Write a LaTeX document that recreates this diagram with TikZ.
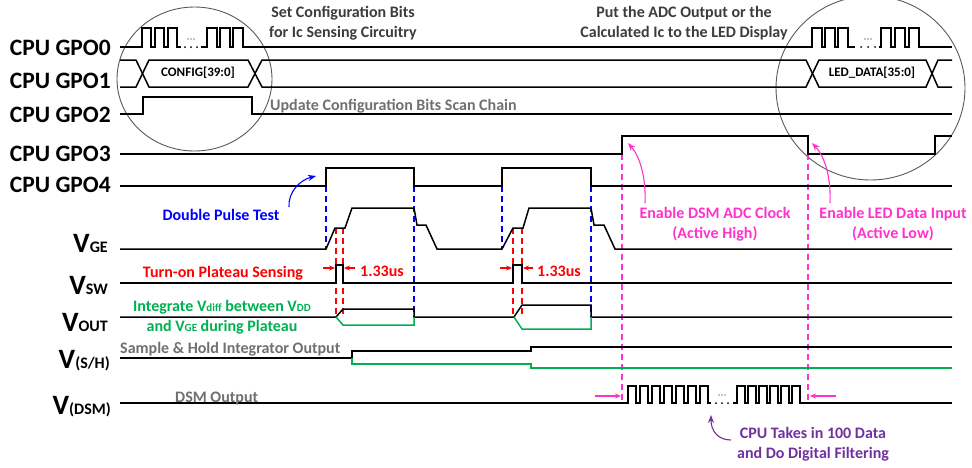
\documentclass[tikz,border=0pt]{standalone}
\usepackage{fontspec}
\setmainfont{Carlito}
\usetikzlibrary{arrows.meta}
\definecolor{myblue}{RGB}{0,0,255}
\definecolor{myred}{RGB}{255,0,0}
\definecolor{mygreen}{RGB}{0,176,80}
\definecolor{mypink}{RGB}{255,51,204}
\definecolor{mypurple}{RGB}{112,48,160}
\definecolor{mygray}{RGB}{112,112,112}
\definecolor{dkgray}{RGB}{60,60,60}
\newcommand\fsz[1]{\fontsize{#1}{#1}\selectfont}
\begin{document}
\begin{tikzpicture}[x=1pt,y=-1pt,
  sig/.style={line width=1.5pt, line join=miter},
  gsig/.style={line width=1.5pt, draw=mygreen},
  vdash/.style={line width=1.4pt, dash pattern=on 6pt off 4pt},
  lbl/.style={inner sep=0pt, font=\bfseries\fsz{23.5}, anchor=base east},
  vl/.style={inner sep=0pt, font=\bfseries, anchor=base east},
  note/.style={inner sep=0pt, font=\bfseries\fontsize{16}{19.5}\selectfont, align=center},
  ring/.style={draw=black!65, line width=0.9pt},
  tip/.style={-{Stealth[length=8pt,width=6pt]}, line width=1.1pt},
  stip/.style={-{Stealth[length=6pt,width=5pt]}, line width=1.1pt}
]
\useasboundingbox (0,0) rectangle (972,467);

% circles
\draw[ring] (194.5,79) ellipse [x radius=77.5, y radius=72];
\draw[ring] (870.5,88) ellipse [x radius=94.5, y radius=92];

% dashed markers
\draw[vdash, myblue] (326,186) -- (326,249);
\draw[vdash, myblue] (414,186) -- (414,317);
\draw[vdash, myblue] (502,186) -- (502,249);
\draw[vdash, myblue] (591,186) -- (591,317);
\draw[vdash, myred] (336,228) -- (336,317);
\draw[vdash, myred] (343,228) -- (343,317);
\draw[vdash, myred] (513,228) -- (513,317);
\draw[vdash, myred] (522,228) -- (522,317);
\draw[vdash, mypink] (622,154) -- (622,403);
\draw[vdash, mypink] (808,154) -- (808,403);

% labels
\node[lbl] (l0) at (111,55) {CPU GPO0};
\node[lbl] (l1) at (111,88) {CPU GPO1};
\node[lbl] (l2) at (111,122) {CPU GPO2};
\node[lbl] (l3) at (111,161) {CPU GPO3};
\node[lbl] (l4) at (111,192) {CPU GPO4};
\node[vl] (lge) at (108,252) {\fsz{28}V\fsz{16}GE};
\node[vl] (lsw) at (108,294) {\fsz{28}V\fsz{16}SW};
\node[vl] (lout) at (108,331) {\fsz{28}V\fsz{16}OUT};
\node[vl] (lsh) at (110,368) {\fsz{28}V\fsz{16}(S/H)};
\node[vl] (ldsm) at (111,414) {\fsz{28}V\fsz{16}(DSM)};

% GPO0
\draw[sig] (120,47) foreach \x in {142,155,168} { -- (\x,47) -- (\x,28) -- ({\x+9},28) -- ({\x+9},47) } -- (181,47);
\fill (185,47) circle (1) (191,47) circle (1) (197,47) circle (1);
\fill (188,39) circle (0.7) (191,39) circle (0.7) (194,39) circle (0.7);
\draw[sig] (201,47) foreach \x in {207,220,233} { -- (\x,47) -- (\x,28) -- ({\x+10},28) -- ({\x+10},47) }
  -- (812,47) foreach \x in {812,825,838} { -- (\x,47) -- (\x,28) -- ({\x+10},28) -- ({\x+10},47) } -- (855,47);
\fill (861,47) circle (1) (868,47) circle (1) (875,47) circle (1);
\fill (865,39) circle (0.7) (868,39) circle (0.7) (871,39) circle (0.7);
\draw[sig] (879,47) foreach \x in {881,895,909} { -- (\x,47) -- (\x,28) -- ({\x+10},28) -- ({\x+10},47) } -- (952,47);

% GPO1 bus
\draw[sig] (120,60) -- (136,60) -- (149,87) -- (248,87) -- (262,60) -- (806,60) -- (819,87) -- (926,87) -- (938,60) -- (952,60);
\draw[sig] (120,87) -- (136,87) -- (149,60) -- (248,60) -- (262,87) -- (806,87) -- (819,60) -- (926,60) -- (938,87) -- (952,87);
\node[inner sep=0pt, font=\bfseries\fsz{13}] (cfg) at (198,73) {CONFIG[39:0]};
\node[inner sep=0pt, font=\bfseries\fsz{13}] (led) at (872,73) {LED\_DATA[35:0]};

% GPO2
\draw[sig] (120,114) -- (143,114) -- (143,97) -- (252,97) -- (252,114) -- (952,114);
% GPO3
\draw[sig] (120,154) -- (622,154) -- (622,136) -- (808,136) -- (808,154) -- (935,154) -- (935,136) -- (952,136);
% GPO4
\draw[sig] (120,186) -- (326,186) -- (326,168) -- (414,168) -- (414,186) -- (502,186) -- (502,168) -- (591,168) -- (591,186) -- (952,186);
% VGE
\draw[sig] (120,249) -- (326,249) -- (335,228) -- (345,228) -- (352,208) -- (414,208) -- (417,225) -- (426,225) -- (437,249)
  -- (502,249) -- (513,228) -- (523,228) -- (529,208) -- (591,208) -- (594,225) -- (604,225) -- (615,249) -- (952,249);
% VSW
\draw[sig] (120,283) -- (336,283) -- (336,265) -- (343,265) -- (343,283) -- (513,283) -- (513,265) -- (522,265) -- (522,283) -- (952,283);
% VOUT
\draw[sig] (120,317) -- (336,317) -- (343,309) -- (414,309) -- (414,317) -- (514,317) -- (522,305) -- (591,305) -- (591,317) -- (952,317);
\draw[gsig] (336,317) -- (343,325) -- (414,325) -- (414,317);
\draw[gsig] (514,317) -- (522,329) -- (591,329) -- (591,317);
% S/H
\draw[sig] (120,358) -- (352,358) -- (352,351) -- (531,351) -- (531,347) -- (952,347);
\draw[gsig] (352,358) -- (352,364) -- (531,364) -- (531,368) -- (952,368);
% DSM
\draw[sig] (120,403) foreach \x in {628,640,...,700} { -- (\x,403) -- (\x,386) -- ({\x+8},386) -- ({\x+8},403) } -- (711,403);
\fill (716,403) circle (1) (722,403) circle (1) (728,403) circle (1);
\fill (719,395) circle (0.7) (722,395) circle (0.7) (725,395) circle (0.7);
\draw[sig] (733,403) foreach \x in {737,748,759,770,781,792} { -- (\x,403) -- (\x,386) -- ({\x+8},386) -- ({\x+8},403) } -- (952,403);

% notes
\node[note, text=dkgray] (setcfg) at (343,23) {Set Configuration Bits\\for Ic Sensing Circuitry};
\node[note, text=dkgray] (putadc) at (684,23) {Put the ADC Output or the\\Calculated Ic to the LED Display};
\node[note, text=mygray, anchor=base west] (upd) at (270,110) {Update Configuration Bits Scan Chain};
\node[note, text=myblue] (dpt) at (221,215) {Double Pulse Test};
\node[note, text=myred] (tps) at (223,273) {Turn-on Plateau Sensing};
\node[note, text=mygreen] (integ) at (222,317) {Integrate V{\fsz{11}diff} between V{\fsz{11}DD}\\and V{\fsz{11}GE} during Plateau};
\node[note, text=mygray, anchor=base west] (shn) at (120,353) {Sample \& Hold Integrator Output};
\node[note, text=mygray, anchor=base west] (dsmn) at (175,402) {DSM Output};
\node[note, text=mypink] (endsm) at (715,224) {Enable DSM ADC Clock\\(Active High)};
\node[note, text=mypink] (enled) at (893,224) {Enable LED Data Input\\(Active Low)};
\node[note, text=mypurple] (cpu) at (813,444) {CPU Takes in 100 Data\\and Do Digital Filtering};
\node[note, text=myred] (t1) at (382,271) {1.33us};
\node[note, text=myred] (t2) at (559,271) {1.33us};

% arrows
\coordinate (bA) at (289,207); \coordinate (bB) at (316,176);
\draw[tip, myblue] (bA) .. controls (288,192) and (300,180) .. (bB);
\coordinate (pA) at (645,203); \coordinate (pB) at (628,143);
\draw[tip, mypink] (pA) .. controls (646,180) and (641,158) .. (pB);
\coordinate (qA) at (830,203); \coordinate (qB) at (812,143);
\draw[tip, mypink] (qA) .. controls (831,180) and (826,158) .. (qB);
\coordinate (uA) at (731,440); \coordinate (uB) at (711,415);
\draw[tip, mypurple] (uA) .. controls (718,440) and (711,431) .. (uB);
\coordinate (r1a) at (323,268); \coordinate (r1b) at (335,268);
\coordinate (r2a) at (355,268); \coordinate (r2b) at (344,268);
\draw[stip, myred] (r1a) -- (r1b);
\draw[stip, myred] (r2a) -- (r2b);
\coordinate (r3a) at (500,268); \coordinate (r3b) at (512,268);
\coordinate (r4a) at (533,268); \coordinate (r4b) at (523,268);
\draw[stip, myred] (r3a) -- (r3b);
\draw[stip, myred] (r4a) -- (r4b);
\coordinate (m1a) at (595,396); \coordinate (m1b) at (621,396);
\coordinate (m2a) at (836,396); \coordinate (m2b) at (810,396);
\draw[stip, mypink] (m1a) -- (m1b);
\draw[stip, mypink] (m2a) -- (m2b);
\end{tikzpicture}
\end{document}
